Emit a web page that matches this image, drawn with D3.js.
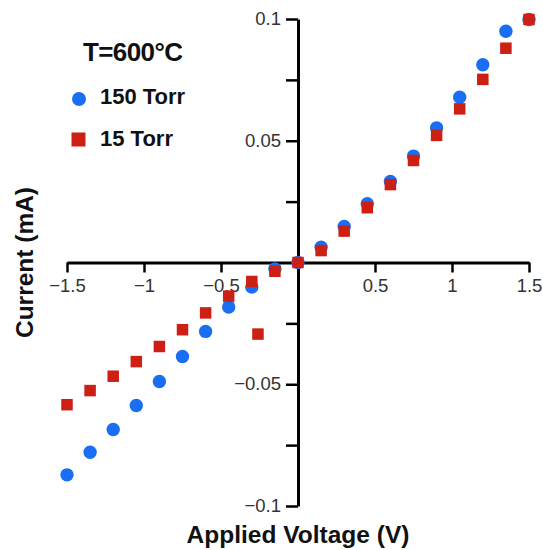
<!DOCTYPE html>
<html>
<head>
<meta charset="utf-8">
<script src="https://cdn.jsdelivr.net/npm/d3@7"></script>
<style>
  html, body { margin: 0; padding: 0; background: #fff; }
  svg { display: block; font-family: "Liberation Sans", Arial, Helvetica, sans-serif; }
</style>
</head>
<body>
<svg id="chart" width="543" height="550"></svg>
<script>
// ---- Data ----
const voltage150 = [-1.5,-1.35,-1.2,-1.05,-0.9,-0.75,-0.6,-0.45,-0.3,-0.15,0,0.15,0.3,0.45,0.6,0.75,0.9,1.05,1.2,1.35,1.5];
const current150 = [-0.0872,-0.0779,-0.0686,-0.0587,-0.0489,-0.0386,-0.0283,-0.0183,-0.0101,-0.0026,0,0.0063,0.0148,0.0241,0.0333,0.0437,0.0553,0.0679,0.0812,0.0950,0.0998];
const voltage15 = [-1.5,-1.35,-1.2,-1.05,-0.9,-0.75,-0.6,-0.45,-0.3,-0.26,-0.15,0,0.15,0.3,0.45,0.6,0.75,0.9,1.05,1.2,1.35,1.5];
const current15 = [-0.0584,-0.0526,-0.0467,-0.0407,-0.0345,-0.0276,-0.0207,-0.0138,-0.0078,-0.0294,-0.0036,0,0.0049,0.0129,0.0225,0.0320,0.0419,0.0522,0.0631,0.0752,0.0880,0.0998];
const xTicks = [-1.5,-1,-0.5,0.5,1,1.5];
const yTicks = [-0.1,-0.075,-0.05,-0.025,0.025,0.05,0.075,0.1];
const yLabelled = [-0.1,-0.05,0.05,0.1];
const seriesNames = ["150 Torr","15 Torr"];
const title = "T=600°C";

// ---- Layout ----
const W = 543, H = 550;
const margin = {left: 67, right: 14, top: 19, bottom: 44};
const blue = "#1a6ef2", red = "#cc2014";

const svg = d3.select("#chart");
const x = d3.scaleLinear().domain([-1.5, 1.5]).range([margin.left, W - margin.right]);
const y = d3.scaleLinear().domain([-0.1, 0.1]).range([H - margin.bottom, margin.top]);

const fmt = d3.format("");

// X axis
const gx = svg.append("g")
  .attr("transform", `translate(0,${y(0)})`)
  .call(d3.axisBottom(x).tickValues(xTicks).tickSize(10).tickSizeOuter(0).tickPadding(6)
        .tickFormat(d => fmt(d)));

// Y axis
const gy = svg.append("g")
  .attr("transform", `translate(${x(0)},0)`)
  .call(d3.axisLeft(y).tickValues(yTicks).tickSize(12).tickSizeOuter(0).tickPadding(5)
        .tickFormat(d => yLabelled.some(v => Math.abs(v - d) < 1e-9) ? fmt(d) : ""));

[gx, gy].forEach(g => {
  g.select(".domain").attr("stroke", "#000").attr("stroke-width", 3);
  g.selectAll(".tick line").attr("stroke", "#000").attr("stroke-width", 2.5);
  g.selectAll(".tick text").attr("fill", "#333").attr("font-size", 18.5)
    .attr("font-family", "\"Liberation Sans\", Arial, Helvetica, sans-serif");
});
gy.selectAll(".tick text").attr("dy", "0.3em");

// Data: circles (150 Torr) then squares (15 Torr) on top
const r = 6.7, s = 11.5;
svg.append("g").selectAll("circle")
  .data(voltage150.map((v, i) => [v, current150[i]]))
  .join("circle")
  .attr("cx", d => x(d[0])).attr("cy", d => y(d[1])).attr("r", r)
  .attr("fill", blue);

svg.append("g").selectAll("rect")
  .data(voltage15.map((v, i) => [v, current15[i]]))
  .join("rect")
  .attr("x", d => x(d[0]) - s / 2).attr("y", d => y(d[1]) - s / 2)
  .attr("width", s).attr("height", s)
  .attr("fill", red);

// Legend
const leg = svg.append("g");
leg.append("text").attr("x", 83).attr("y", 61).attr("font-size", 26).attr("font-weight", "bold")
  .attr("fill", "#111").attr("textLength", 100).text(title);
leg.append("circle").attr("cx", 79).attr("cy", 99).attr("r", 7).attr("fill", blue);
leg.append("text").attr("x", 100).attr("y", 104).attr("font-size", 22).attr("font-weight", "bold")
  .attr("fill", "#111").text(seriesNames[0]);
leg.append("rect").attr("x", 71.5).attr("y", 132.5).attr("width", 14).attr("height", 14).attr("fill", red);
leg.append("text").attr("x", 100).attr("y", 146).attr("font-size", 22).attr("font-weight", "bold")
  .attr("fill", "#111").text(seriesNames[1]);

// Axis titles
svg.append("text").attr("x", x(0)).attr("y", 543).attr("text-anchor", "middle")
  .attr("font-size", 24.5).attr("font-weight", "bold").attr("fill", "#111").text("Applied Voltage (V)");
svg.append("text").attr("transform", `translate(33,${y(0)}) rotate(-90)`).attr("text-anchor", "middle")
  .attr("font-size", 24.5).attr("font-weight", "bold").attr("fill", "#111").text("Current (mA)");
</script>
</body>
</html>
